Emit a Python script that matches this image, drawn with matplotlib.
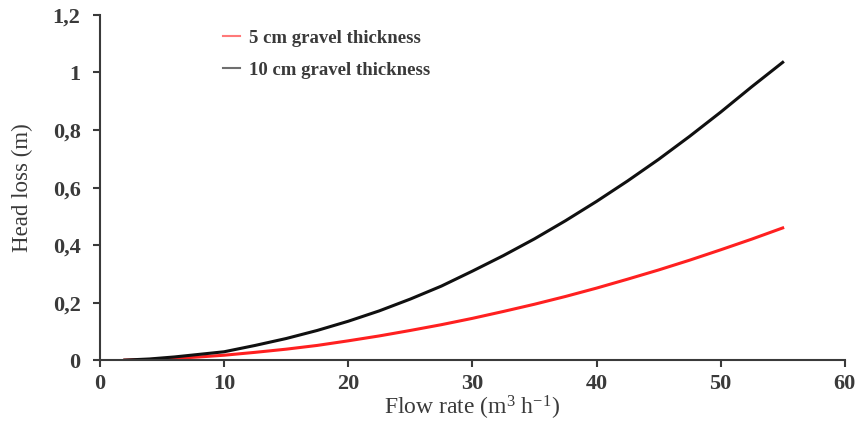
import matplotlib
matplotlib.use("Agg")
import matplotlib.pyplot as plt
from matplotlib.ticker import FixedLocator, FixedFormatter

plt.rcParams["font.family"] = ["Liberation Serif", "DejaVu Serif"]

# flow rate (m3/h) and head loss (m)
flow = [2, 4, 6, 8, 10, 12.5, 15, 17.5, 20, 22.5, 25, 27.5, 30,
        32.5, 35, 37.5, 40, 42.5, 45, 47.5, 50, 52.5, 55]
loss_5cm = [0.001, 0.003, 0.007, 0.012, 0.018, 0.028, 0.039, 0.052, 0.068, 0.085,
            0.104, 0.124, 0.146, 0.170, 0.195, 0.222, 0.251, 0.282, 0.314,
            0.348, 0.384, 0.421, 0.460]
loss_10cm = [0.001, 0.005, 0.012, 0.021, 0.030, 0.052, 0.076, 0.104, 0.136, 0.172,
             0.213, 0.258, 0.310, 0.364, 0.422, 0.485, 0.552, 0.623, 0.698,
             0.778, 0.862, 0.950, 1.035]

y_ticks = [0, 0.2, 0.4, 0.6, 0.8, 1.0, 1.2]
y_labels = ["0", "0,2", "0,4", "0,6", "0,8", "1", "1,2"]
x_ticks = [0, 10, 20, 30, 40, 50, 60]

GREY = "#3a3a3a"

fig = plt.figure(figsize=(8.57, 4.24), dpi=100)
ax = fig.add_axes([0.1167, 0.150, 0.869, 0.815])

ax.plot(flow, loss_5cm, color="#ff2020", lw=2.2, label="5 cm gravel thickness")
ax.plot(flow, loss_10cm, color="#101010", lw=2.2, label="10 cm gravel thickness")

ax.set_xlim(0, 60)
ax.set_ylim(0, 1.2)
ax.xaxis.set_major_locator(FixedLocator(x_ticks))
ax.yaxis.set_major_locator(FixedLocator(y_ticks))
ax.yaxis.set_major_formatter(FixedFormatter(y_labels))

for s in ("top", "right"):
    ax.spines[s].set_visible(False)
for s in ("left", "bottom"):
    ax.spines[s].set_color(GREY)
    ax.spines[s].set_linewidth(1.5)
ax.tick_params(axis="both", colors=GREY, labelcolor=GREY, labelsize=16,
               length=5, width=1.5, direction="out")
ax.tick_params(axis="x", pad=5)
ax.tick_params(axis="y", pad=9)
for lab in ax.get_xticklabels() + ax.get_yticklabels():
    lab.set_fontweight("bold")

ax.set_xlabel(r"Flow rate (m$\mathregular{^{3}}$ h$\mathregular{^{-1}}$)",
              fontsize=17, color=GREY, labelpad=0)
ax.set_ylabel("Head loss (m)", fontsize=16.5, color=GREY, labelpad=14)

leg = ax.legend(loc="upper left", bbox_to_anchor=(0.142, 1.006), frameon=False,
                prop={"size": 13.5, "weight": "bold"}, handlelength=0.95,
                handletextpad=0.45, labelspacing=0.78, labelcolor=GREY)
for h in leg.legend_handles:
    h.set_linewidth(1.5)
    h.set_alpha(0.6)

fig.savefig("out.png", dpi=100)
